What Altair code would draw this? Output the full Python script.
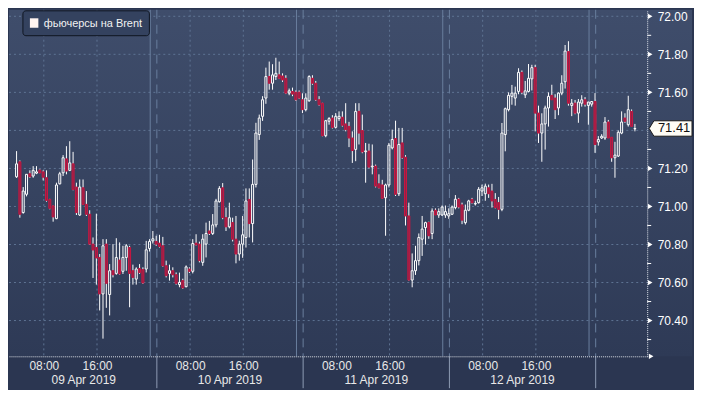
import altair as alt
import pandas as pd

# ---------------- data (30-min candles, Brent futures) ----------------
opens = [71.156, 71.235, 70.968, 71.064, 71.172, 71.160, 71.175, 71.191, 71.182, 71.151,
         71.037, 71.003, 70.936, 71.119, 71.177, 71.250, 71.190, 71.224, 71.102, 70.955,
         71.098, 71.011, 70.959, 70.802, 70.784, 70.732, 70.540, 70.802, 70.537, 70.662,
         70.648, 70.718, 70.659, 70.732, 70.784, 70.662, 70.618, 70.674, 70.668, 70.671,
         70.779, 70.819, 70.816, 70.807, 70.793, 70.688, 70.648, 70.662, 70.641, 70.589,
         70.610, 70.578, 70.671, 70.659, 70.807, 70.802, 70.706, 70.802, 70.871, 70.858,
         70.903, 71.025, 71.098, 70.941, 70.893, 70.915, 70.828, 70.750, 70.802, 70.837,
         71.037, 70.910, 71.116, 71.378, 71.474, 71.570, 71.683, 71.648, 71.683, 71.692,
         71.686, 71.674, 71.596, 71.605, 71.601, 71.601, 71.561, 71.509, 71.556, 71.674,
         71.648, 71.561, 71.543, 71.372, 71.448, 71.465, 71.416, 71.462, 71.469, 71.434,
         71.421, 71.360, 71.300, 71.500, 71.399, 71.288, 71.291, 71.208, 71.212, 71.119,
         71.113, 71.046, 71.113, 71.308, 71.357, 71.067, 71.334, 71.259, 70.950, 70.613,
         70.662, 70.715, 70.828, 70.889, 70.915, 70.858, 70.980, 70.955, 70.955, 70.955,
         70.950, 70.959, 70.994, 71.038, 71.008, 70.915, 70.980, 71.037, 71.013, 71.020,
         71.081, 71.067, 71.098, 71.081, 71.037, 71.020, 70.985, 71.378, 71.509, 71.579,
         71.570, 71.605, 71.705, 71.587, 71.605, 71.671, 71.730, 71.491, 71.386, 71.434,
         71.518, 71.584, 71.570, 71.518, 71.596, 71.656, 71.814, 71.531, 71.543, 71.491,
         71.543, 71.561, 71.531, 71.538, 71.552, 71.339, 71.360, 71.360, 71.444, 71.364,
         71.256, 71.265, 71.386, 71.465, 71.430, 71.500, 71.408]
highs = [71.291, 71.242, 71.102, 71.170, 71.190, 71.212, 71.212, 71.195, 71.190, 71.190,
         71.040, 71.005, 71.125, 71.182, 71.270, 71.317, 71.343, 71.287, 71.125, 71.142,
         71.142, 71.081, 70.980, 70.837, 70.962, 70.750, 70.828, 70.828, 70.697, 70.802,
         70.833, 70.811, 70.793, 70.802, 70.793, 70.694, 70.680, 70.697, 70.680, 70.819,
         70.828, 70.871, 70.846, 70.851, 70.840, 70.715, 70.694, 70.680, 70.653, 70.652,
         70.620, 70.690, 70.680, 70.828, 70.854, 70.815, 70.854, 70.915, 70.924, 70.960,
         71.040, 71.107, 71.123, 70.994, 71.020, 70.941, 70.950, 70.820, 70.950, 71.095,
         71.095, 71.247, 71.440, 71.483, 71.580, 71.730, 71.762, 71.748, 71.782, 71.762,
         71.700, 71.690, 71.620, 71.625, 71.610, 71.610, 71.595, 71.595, 71.690, 71.690,
         71.660, 71.580, 71.545, 71.455, 71.470, 71.480, 71.491, 71.500, 71.500, 71.543,
         71.445, 71.395, 71.543, 71.543, 71.483, 71.334, 71.330, 71.326, 71.220, 71.169,
         71.140, 71.120, 71.334, 71.404, 71.451, 71.413, 71.413, 71.270, 71.020, 70.753,
         70.793, 70.858, 70.950, 70.920, 70.920, 70.990, 70.990, 70.990, 71.005, 71.005,
         70.990, 71.005, 71.060, 71.045, 71.020, 71.010, 71.035, 71.045, 71.030, 71.102,
         71.115, 71.120, 71.115, 71.119, 71.070, 71.050, 71.439, 71.520, 71.600, 71.639,
         71.630, 71.727, 71.715, 71.660, 71.749, 71.745, 71.745, 71.530, 71.490, 71.530,
         71.600, 71.640, 71.590, 71.600, 71.690, 71.849, 71.869, 71.565, 71.560, 71.565,
         71.585, 71.575, 71.550, 71.552, 71.596, 71.370, 71.380, 71.470, 71.455, 71.365,
         71.340, 71.400, 71.500, 71.490, 71.582, 71.510, 71.434]
lows = [71.150, 70.941, 70.962, 71.053, 71.150, 71.151, 71.170, 71.175, 71.137, 71.025,
        70.985, 70.920, 70.933, 71.116, 71.160, 71.169, 71.186, 71.085, 70.955, 70.950,
        71.008, 70.950, 70.798, 70.624, 70.589, 70.453, 70.305, 70.467, 70.427, 70.627,
        70.641, 70.641, 70.645, 70.662, 70.470, 70.589, 70.589, 70.645, 70.593, 70.653,
        70.763, 70.805, 70.793, 70.784, 70.683, 70.627, 70.610, 70.627, 70.589, 70.575,
        70.567, 70.575, 70.650, 70.648, 70.795, 70.706, 70.688, 70.732, 70.850, 70.850,
        70.890, 71.020, 70.933, 70.871, 70.885, 70.816, 70.701, 70.715, 70.730, 70.784,
        70.837, 70.811, 71.100, 71.350, 71.450, 71.540, 71.614, 71.614, 71.665, 71.670,
        71.655, 71.591, 71.585, 71.580, 71.555, 71.565, 71.491, 71.500, 71.550, 71.640,
        71.555, 71.530, 71.369, 71.364, 71.430, 71.410, 71.410, 71.450, 71.420, 71.395,
        71.312, 71.229, 71.238, 71.326, 71.280, 71.125, 71.200, 71.169, 71.100, 71.095,
        71.040, 70.846, 71.100, 71.300, 71.055, 71.055, 71.250, 70.900, 70.610, 70.575,
        70.640, 70.690, 70.740, 70.800, 70.830, 70.828, 70.955, 70.940, 70.950, 70.940,
        70.935, 70.955, 70.985, 70.990, 70.907, 70.905, 70.975, 71.015, 71.005, 71.015,
        71.055, 71.030, 71.045, 70.994, 70.990, 70.933, 70.975, 71.290, 71.500, 71.535,
        71.530, 71.590, 71.590, 71.570, 71.600, 71.610, 71.395, 71.334, 71.235, 71.299,
        71.420, 71.560, 71.460, 71.480, 71.585, 71.620, 71.530, 71.475, 71.485, 71.440,
        71.525, 71.525, 71.430, 71.525, 71.282, 71.320, 71.355, 71.350, 71.360, 71.235,
        71.151, 71.260, 71.380, 71.440, 71.420, 71.420, 71.395]
closes = [71.224, 70.959, 71.081, 71.169, 71.156, 71.190, 71.182, 71.177, 71.154, 71.032,
          70.990, 70.945, 71.113, 71.172, 71.256, 71.186, 71.229, 71.089, 70.968, 71.102,
          71.011, 70.959, 70.802, 70.771, 70.729, 70.540, 70.793, 70.596, 70.662, 70.641,
          70.732, 70.645, 70.732, 70.793, 70.648, 70.627, 70.671, 70.652, 70.598, 70.772,
          70.816, 70.830, 70.802, 70.790, 70.688, 70.636, 70.662, 70.641, 70.596, 70.601,
          70.572, 70.682, 70.659, 70.805, 70.798, 70.715, 70.828, 70.858, 70.858, 70.903,
          71.029, 71.095, 70.941, 70.893, 70.941, 70.828, 70.750, 70.802, 70.851, 71.029,
          70.910, 71.116, 71.386, 71.465, 71.561, 71.683, 71.648, 71.692, 71.700, 71.674,
          71.665, 71.596, 71.608, 71.591, 71.561, 71.570, 71.509, 71.570, 71.683, 71.648,
          71.561, 71.535, 71.372, 71.451, 71.462, 71.416, 71.474, 71.474, 71.427, 71.404,
          71.360, 71.294, 71.500, 71.386, 71.287, 71.292, 71.207, 71.212, 71.107, 71.098,
          71.043, 71.113, 71.322, 71.352, 71.064, 71.326, 71.256, 70.950, 70.613, 70.662,
          70.715, 70.837, 70.881, 70.915, 70.846, 70.976, 70.955, 70.973, 70.997, 70.973,
          70.962, 70.997, 71.038, 70.997, 70.928, 70.980, 71.029, 71.020, 71.016, 71.090,
          71.098, 71.107, 71.067, 71.029, 70.994, 70.985, 71.386, 71.514, 71.584, 71.596,
          71.596, 71.705, 71.601, 71.608, 71.674, 71.730, 71.491, 71.386, 71.434, 71.518,
          71.579, 71.561, 71.509, 71.596, 71.648, 71.817, 71.543, 71.543, 71.491, 71.549,
          71.561, 71.538, 71.549, 71.552, 71.326, 71.352, 71.369, 71.444, 71.360, 71.256,
          71.270, 71.390, 71.444, 71.448, 71.509, 71.421, 71.410]

grid_prices = [70.40, 70.60, 70.80, 71.00, 71.20, 71.40, 71.60, 71.80, 72.00]
label_prices = [70.40, 70.60, 70.80, 71.00, 71.20, 71.60, 71.80, 72.00]
minor_prices = [70.30, 70.50, 70.70, 70.90, 71.10, 71.30, 71.50, 71.70, 71.90]
time_tick_pos = [8.2, 24.2, 52.2, 68.2, 96.2, 112.2, 140.2, 156.2]
time_tick_labels = ["08:00", "16:00", "08:00", "16:00", "08:00", "16:00", "08:00", "16:00"]
midnight_pos = [40.2, 84.2, 128.2, 172.2]
session_pos = [42.2, 86.2, 130.2, 174.2]
date_pos = [20.2, 64.2, 108.2, 152.2]
date_labels = ["09 Apr 2019", "10 Apr 2019", "11 Apr 2019", "12 Apr 2019"]
legend_label = ["фьючерсы на Brent"]
last_price = [71.41]

# ---------------- layout ----------------
W, H = 641, 348
TOTAL_W = 686
FONT = "Liberation Sans"
GRID = "#5f7493"

n = len(opens)
df = pd.DataFrame({"k": list(range(n)), "o": opens, "h": highs, "l": lows, "c": closes})
df["top"] = df[["o", "c"]].max(axis=1)
df["bot"] = df[["o", "c"]].min(axis=1)
df["up"] = df["c"] >= df["o"]
up_df = df[df["up"]]
dn_df = df[~df["up"]]

xscale = alt.Scale(domain=[-0.779, 188.2], nice=False, zero=False)
yscale = alt.Scale(domain=[70.212, 72.034], nice=False, zero=False)

label_map = "{" + ",".join(f"'{p}':'{t}'" for p, t in zip(time_tick_pos, time_tick_labels)) + "}"
xaxis = alt.Axis(values=time_tick_pos, labelExpr=f"{label_map}[''+datum.value]", grid=False,
                 ticks=False, domain=True, domainColor="#dfe4ec", domainDash=[1, 1],
                 labelColor="#e8e8e8", labelFont=FONT, labelFontSize=12, labelPadding=4,
                 title=None, zindex=1)
yaxis = alt.Axis(values=label_prices, format=".2f", orient="right", grid=False, ticks=False,
                 domain=True, domainColor="#dfe4ec", domainDash=[1, 1], labelColor="#ffffff",
                 labelFont=FONT, labelFontSize=12, labelPadding=10, title=None, zindex=1)


def X(f):
    return alt.X(f, type="quantitative", scale=xscale, axis=xaxis)


def Y(f):
    return alt.Y(f, type="quantitative", scale=yscale, axis=yaxis)


one = pd.DataFrame({"a": [0]})

bg = alt.Chart(one).mark_rect(fill={
    "gradient": "linear", "x1": 0, "y1": 0, "x2": 0, "y2": 1,
    "stops": [{"offset": 0, "color": "#3f4d6b"}, {"offset": 1, "color": "#2e3a56"}]
}).encode(x=alt.value(0), x2=alt.value(TOTAL_W), y=alt.value(0), y2=alt.value(H))

hgrid = alt.Chart(pd.DataFrame({"p": grid_prices})).mark_rule(
    color=GRID, strokeWidth=1, strokeDash=[2, 3]).encode(
    y=Y("p"), x=alt.value(0), x2=alt.value(W))
vgrid = alt.Chart(pd.DataFrame({"pos": time_tick_pos})).mark_rule(
    color=GRID, strokeWidth=1, strokeDash=[2, 3]).encode(
    x=X("pos"), y=alt.value(0), y2=alt.value(H))

mid_rules = alt.Chart(pd.DataFrame({"pos": midnight_pos})).mark_rule(
    color="#6a7f9e", strokeWidth=1).encode(x=X("pos"), y=alt.value(0), y2=alt.value(H))
ses_rules = alt.Chart(pd.DataFrame({"pos": session_pos})).mark_rule(
    color="#6a7f9e", strokeWidth=1, strokeDash=[9, 6]).encode(x=X("pos"), y=alt.value(0), y2=alt.value(H))

# below-axis separators
sep_rules = alt.Chart(pd.DataFrame({"pos": session_pos})).mark_rule(
    color="#8e9cb4", strokeWidth=1).encode(x=X("pos"), y=alt.value(H), y2=alt.value(H + 32))

wick_hi = alt.Chart(df).mark_rule(color="#ffffff", strokeWidth=1).encode(
    x=X("k"), y=Y("h"), y2="top")
wick_lo = alt.Chart(df).mark_rule(color="#ffffff", strokeWidth=1).encode(
    x=X("k"), y=Y("bot"), y2="l")

body_up = alt.Chart(up_df).mark_bar(width=2, fill="#36435f", fillOpacity=0, stroke="#ffffff",
                                    strokeWidth=1).encode(x=X("k"), y=Y("bot"), y2="top")
body_dn = alt.Chart(dn_df).mark_bar(width=2, fill="#8d2449", stroke="#cc1540",
                                    strokeWidth=1).encode(x=X("k"), y=Y("bot"), y2="top")

# right-axis arrow ticks and minor ticks
tri = alt.Chart(pd.DataFrame({"p": label_prices})).mark_point(
    shape="triangle-right", filled=True, size=28, color="#ffffff", opacity=1).encode(
    x=alt.value(W + 3), y=Y("p"))
minor = alt.Chart(pd.DataFrame({"p": minor_prices})).mark_rule(color="#ffffff", strokeWidth=1).encode(
    x=alt.value(W), x2=alt.value(W + 4), y=Y("p"))
axis_arrow = alt.Chart(one).mark_point(shape="triangle-right", filled=True, size=28,
                                       color="#ffffff", opacity=1).encode(
    x=alt.value(W + 4), y=alt.value(H))

# date labels
dates = alt.Chart(pd.DataFrame({"pos": date_pos, "t": date_labels})).mark_text(
    font=FONT, fontSize=12, color="#e8e8e8", baseline="middle").encode(
    x=X("pos"), y=alt.value(H + 24), text="t:N")

# legend
leg_box = alt.Chart(one).mark_rect(cornerRadius=3, fill="#34425f", stroke="#0f1520",
                                   strokeWidth=1).encode(
    x=alt.value(14), x2=alt.value(141), y=alt.value(1), y2=alt.value(26))
leg_sw = alt.Chart(one).mark_rect(fill="#fff4f0").encode(
    x=alt.value(21), x2=alt.value(29.5), y=alt.value(8.5), y2=alt.value(18))
leg_txt = alt.Chart(pd.DataFrame({"t": legend_label})).mark_text(
    font=FONT, fontSize=11, color="#f2f2f2", align="left", baseline="middle").encode(
    x=alt.value(35), y=alt.value(14), text="t:N")

# last price tag
tag_path = "M -1 0 L -0.78 -0.36 L 1 -0.36 L 1 0.36 L -0.78 0.36 Z"
tag = alt.Chart(pd.DataFrame({"p": last_price})).mark_point(
    shape=tag_path, filled=True, size=1849, fill="#fffdf5", stroke="#1a1a1a", strokeWidth=1,
    opacity=1).encode(x=alt.value(W + 23.5), y=Y("p"))
tag_txt = alt.Chart(pd.DataFrame({"p": last_price})).mark_text(
    font=FONT, fontSize=13, color="#111111", align="center", baseline="middle").encode(
    x=alt.value(W + 27), y=Y("p"), text=alt.Text("p:Q", format=".2f"))

chart = alt.layer(
    bg, hgrid, vgrid, mid_rules, ses_rules, sep_rules, wick_hi, wick_lo, body_dn, body_up,
    minor, tri, axis_arrow, dates, leg_box, leg_sw, leg_txt, tag, tag_txt
).properties(width=W, height=H, background="#2b3651", padding=0).configure_view(strokeWidth=0)

chart.save("out.html", embed_options={"renderer": "svg", "actions": False})
